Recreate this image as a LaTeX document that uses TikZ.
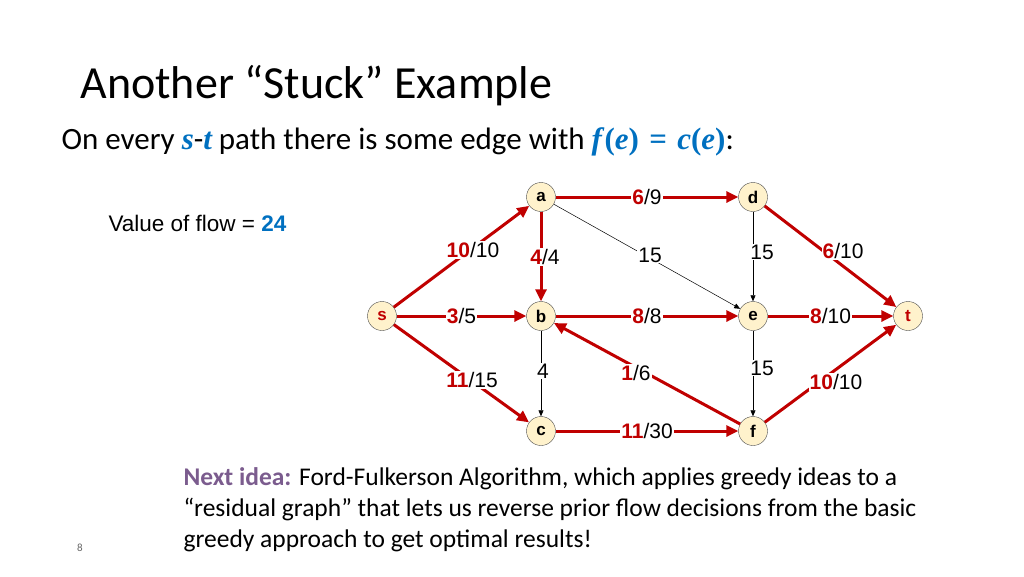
\documentclass[tikz,border=0pt]{standalone}
\usepackage{fontspec}
\setmainfont{Carlito}
\newfontfamily\arial{Liberation Sans}
\newfontfamily\mserif{Liberation Serif}
\usetikzlibrary{arrows.meta}
\definecolor{fred}{HTML}{C00000}
\definecolor{fblue}{HTML}{0070C0}
\definecolor{npurp}{HTML}{7B5C8E}
\definecolor{nfill}{HTML}{FFF2CC}
\begin{document}
\begin{tikzpicture}[x=1pt,y=-1pt,
  vx/.style={circle,draw=black!70,thin,fill=nfill,minimum size=29pt,inner sep=0pt,font=\arial\bfseries\fontsize{17}{17}\selectfont},
  fl/.style={draw=fred,line width=3pt,-{Triangle[length=12pt,width=11pt]}},
  th/.style={draw=black,line width=0.5pt,-{Triangle[length=6pt,width=5pt]}},
  lb/.style={fill=white,inner sep=1pt,font=\arial\fontsize{21}{21}\selectfont},
  ob/.style={inner sep=1pt,font=\arial\fontsize{21}{21}\selectfont}]
\useasboundingbox (0,0) rectangle (1024,576);
\node[anchor=west,font=\fontsize{46}{46}\selectfont] (title) at (77,86) {Another “Stuck” Example};
\node[anchor=west,font=\fontsize{31}{31}\selectfont] (sub) at (58,142) {On every {\mserif\bfseries\itshape\color{fblue}s}-{\mserif\bfseries\itshape\color{fblue}t} path there is some edge with {\mserif\bfseries\color{fblue}\textit{f}(\textit{e})\,\,=\,\,\textit{c}(\textit{e})}:};
\node[anchor=west,font=\arial\fontsize{22.5}{22.5}\selectfont] (val) at (105,223) {Value of flow = {\bfseries\color{fblue}24}};

\node[vx,text=fred] (s) at (382,316) {s};
\node[vx] (a) at (541,197) {a};
\node[vx] (b) at (541,316) {b};
\node[vx] (c) at (541,431) {c};
\node[vx] (d) at (753,197) {d};
\node[vx] (e) at (753,316) {e};
\node[vx] (f) at (753,431) {f};
\node[vx,text=fred] (t) at (908,316) {t};

\draw[fl] (s) -- (a);
\draw[fl] (s) -- node[lb]{\textbf{\color{fred}3}/5} (b);
\draw[fl] (s) -- (c);
\draw[fl] (a) -- node[lb]{\textbf{\color{fred}6}/9} (d);
\draw[fl] (a) -- (b);
\draw[th] (a) -- (e);
\draw[fl] (b) -- node[lb]{\textbf{\color{fred}8}/8} (e);
\draw[th] (b) -- (c);
\draw[fl] (c) -- node[lb]{\textbf{\color{fred}11}/30} (f);
\draw[th] (d) -- (e);
\draw[fl] (d) -- (t);
\draw[fl] (e) -- node[lb]{\textbf{\color{fred}8}/10} (t);
\draw[th] (e) -- (f);
\draw[fl] (f) -- (b);
\draw[fl] (f) -- (t);

\node[ob,fill=white] (l1) at (473,250) {\textbf{\color{fred}10}/10};
\node[ob,fill=white] (l2) at (545,257) {\textbf{\color{fred}4}/4};
\node[ob,fill=white] (l3) at (650,255) {15};
\node[ob,fill=white] (l4) at (762,252) {15};
\node[ob,fill=white] (l5) at (843,251) {\textbf{\color{fred}6}/10};
\node[ob,fill=white] (l6) at (472,380) {\textbf{\color{fred}11}/15};
\node[ob,fill=white] (l7) at (543,371) {4};
\node[ob,fill=white] (l8) at (636,373) {\textbf{\color{fred}1}/6};
\node[ob,fill=white] (l9) at (762,368) {15};
\node[ob,fill=white] (l10) at (836,382) {\textbf{\color{fred}10}/10};

\node[anchor=north west,align=left,font=\fontsize{25.5}{31}\selectfont] (idea) at (180,464) {{\bfseries\color{npurp}Next idea:} Ford-Fulkerson Algorithm, which applies greedy ideas to a\\“residual graph” that lets us reverse prior flow decisions from the basic\\greedy approach to get optimal results!};
\node[font=\fontsize{11}{11}\selectfont,text=black!60] (pg) at (80,548) {8};
\end{tikzpicture}
\end{document}
